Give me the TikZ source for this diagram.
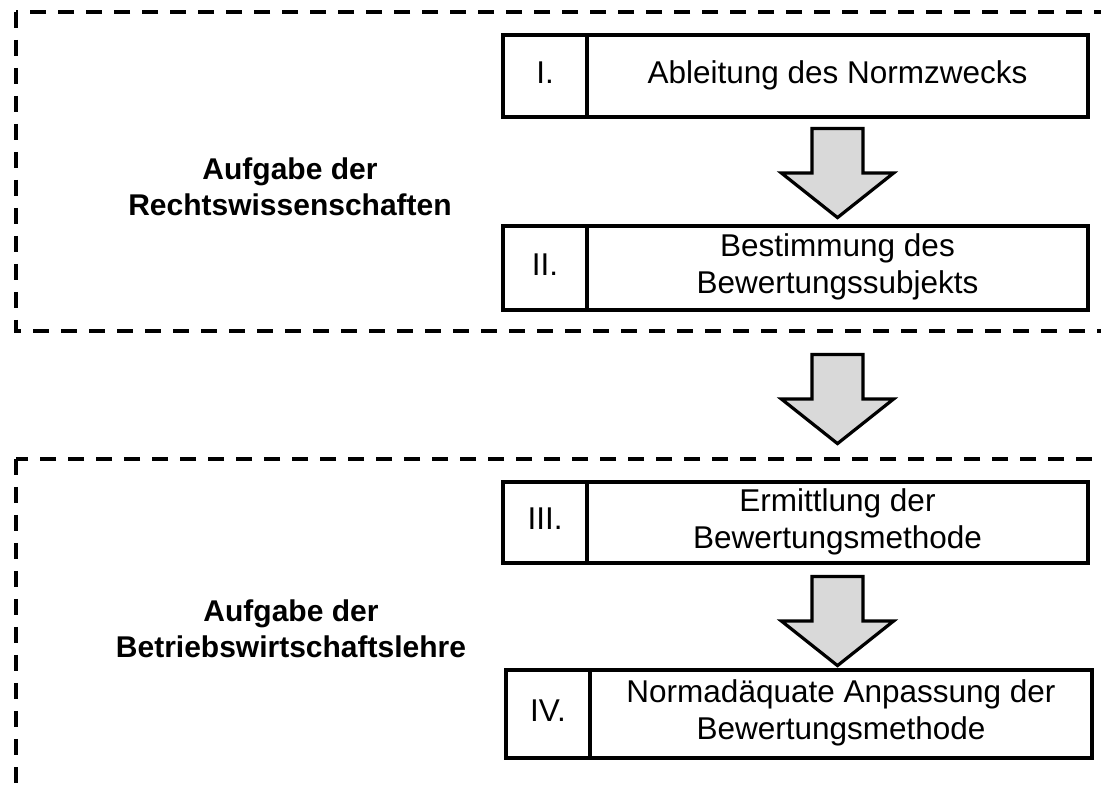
\documentclass[tikz,border=0pt]{standalone}
\usepackage{fontspec}
\setmainfont{Liberation Sans}
\usetikzlibrary{calc}
\definecolor{arrowgray}{RGB}{217,217,217}
\begin{document}
\begin{tikzpicture}[x=1pt,y=1pt]
\tikzset{
  cell/.style={draw=black, line width=3.2pt, inner sep=0pt, fill=white,
               font=\fontsize{31.5}{37}\selectfont},
  lbl/.style={font=\fontsize{30}{36}\selectfont\bfseries, inner sep=0pt, anchor=base},
  frame/.style={draw=black, line width=3.5pt, dash pattern=on 16pt off 12pt},
  blockarrow/.style={draw=black, line width=3.2pt, fill=arrowgray, line join=miter}
}
\useasboundingbox (0,0) rectangle (1101,785);
\begin{scope}
  \clip (0,0) rectangle (1101,785);
  \draw[frame] (16,773) rectangle (1140,454);
  \draw[frame] (16,326) rectangle (1140,-40);
\end{scope}

% row I
\node[cell, minimum width=84pt, minimum height=82pt] (n1) at (545,709) {\begin{tabular}{@{}c@{}}I.\end{tabular}};
\node[cell, minimum width=501pt, minimum height=82pt] (t1) at (837.5,709) {\begin{tabular}{@{}c@{}}Ableitung des Normzwecks\end{tabular}};
% row II
\node[cell, minimum width=84pt, minimum height=84pt] (n2) at (545,517) {\begin{tabular}{@{}c@{}}II.\end{tabular}};
\node[cell, minimum width=501pt, minimum height=84pt] (t2) at (837.5,517) {\begin{tabular}{@{}c@{}}Bestimmung des\\Bewertungssubjekts\end{tabular}};
% row III
\node[cell, minimum width=84pt, minimum height=81pt] (n3) at (545,262.5) {\begin{tabular}{@{}c@{}}III.\end{tabular}};
\node[cell, minimum width=501pt, minimum height=81pt] (t3) at (837.5,262.5) {\begin{tabular}{@{}c@{}}Ermittlung der\\Bewertungsmethode\end{tabular}};
% row IV
\node[cell, minimum width=84pt, minimum height=88pt] (n4) at (548,71) {\begin{tabular}{@{}c@{}}IV.\end{tabular}};
\node[cell, minimum width=502pt, minimum height=88pt] (t4) at (841,71) {\begin{tabular}{@{}c@{}}Normad\"aquate Anpassung der\\Bewertungsmethode\end{tabular}};

% labels
\node[lbl] (L1) at (290,569.5) {\begin{tabular}[b]{@{}c@{}}Aufgabe der\\Rechtswissenschaften\end{tabular}};
\node[lbl] (L2) at (291,127) {\begin{tabular}[b]{@{}c@{}}Aufgabe der\\Betriebswirtschaftslehre\end{tabular}};

% arrows
\coordinate (a1) at ($(t1.south)+(0,-10)$);
\coordinate (a2) at ($(t2.south)+(0,-43)$);
\coordinate (a3) at ($(t3.south)+(0,-12)$);
\foreach \a in {a1,a2,a3}{
  \draw[blockarrow] (\a) ++(-25.5,0) -- ++(51,0) -- ++(0,-44.5) -- ++(30.5,0)
     -- ++(-56,-44.5) -- ++(-56,44.5) -- ++(30.5,0) -- cycle;
}
\end{tikzpicture}
\end{document}
